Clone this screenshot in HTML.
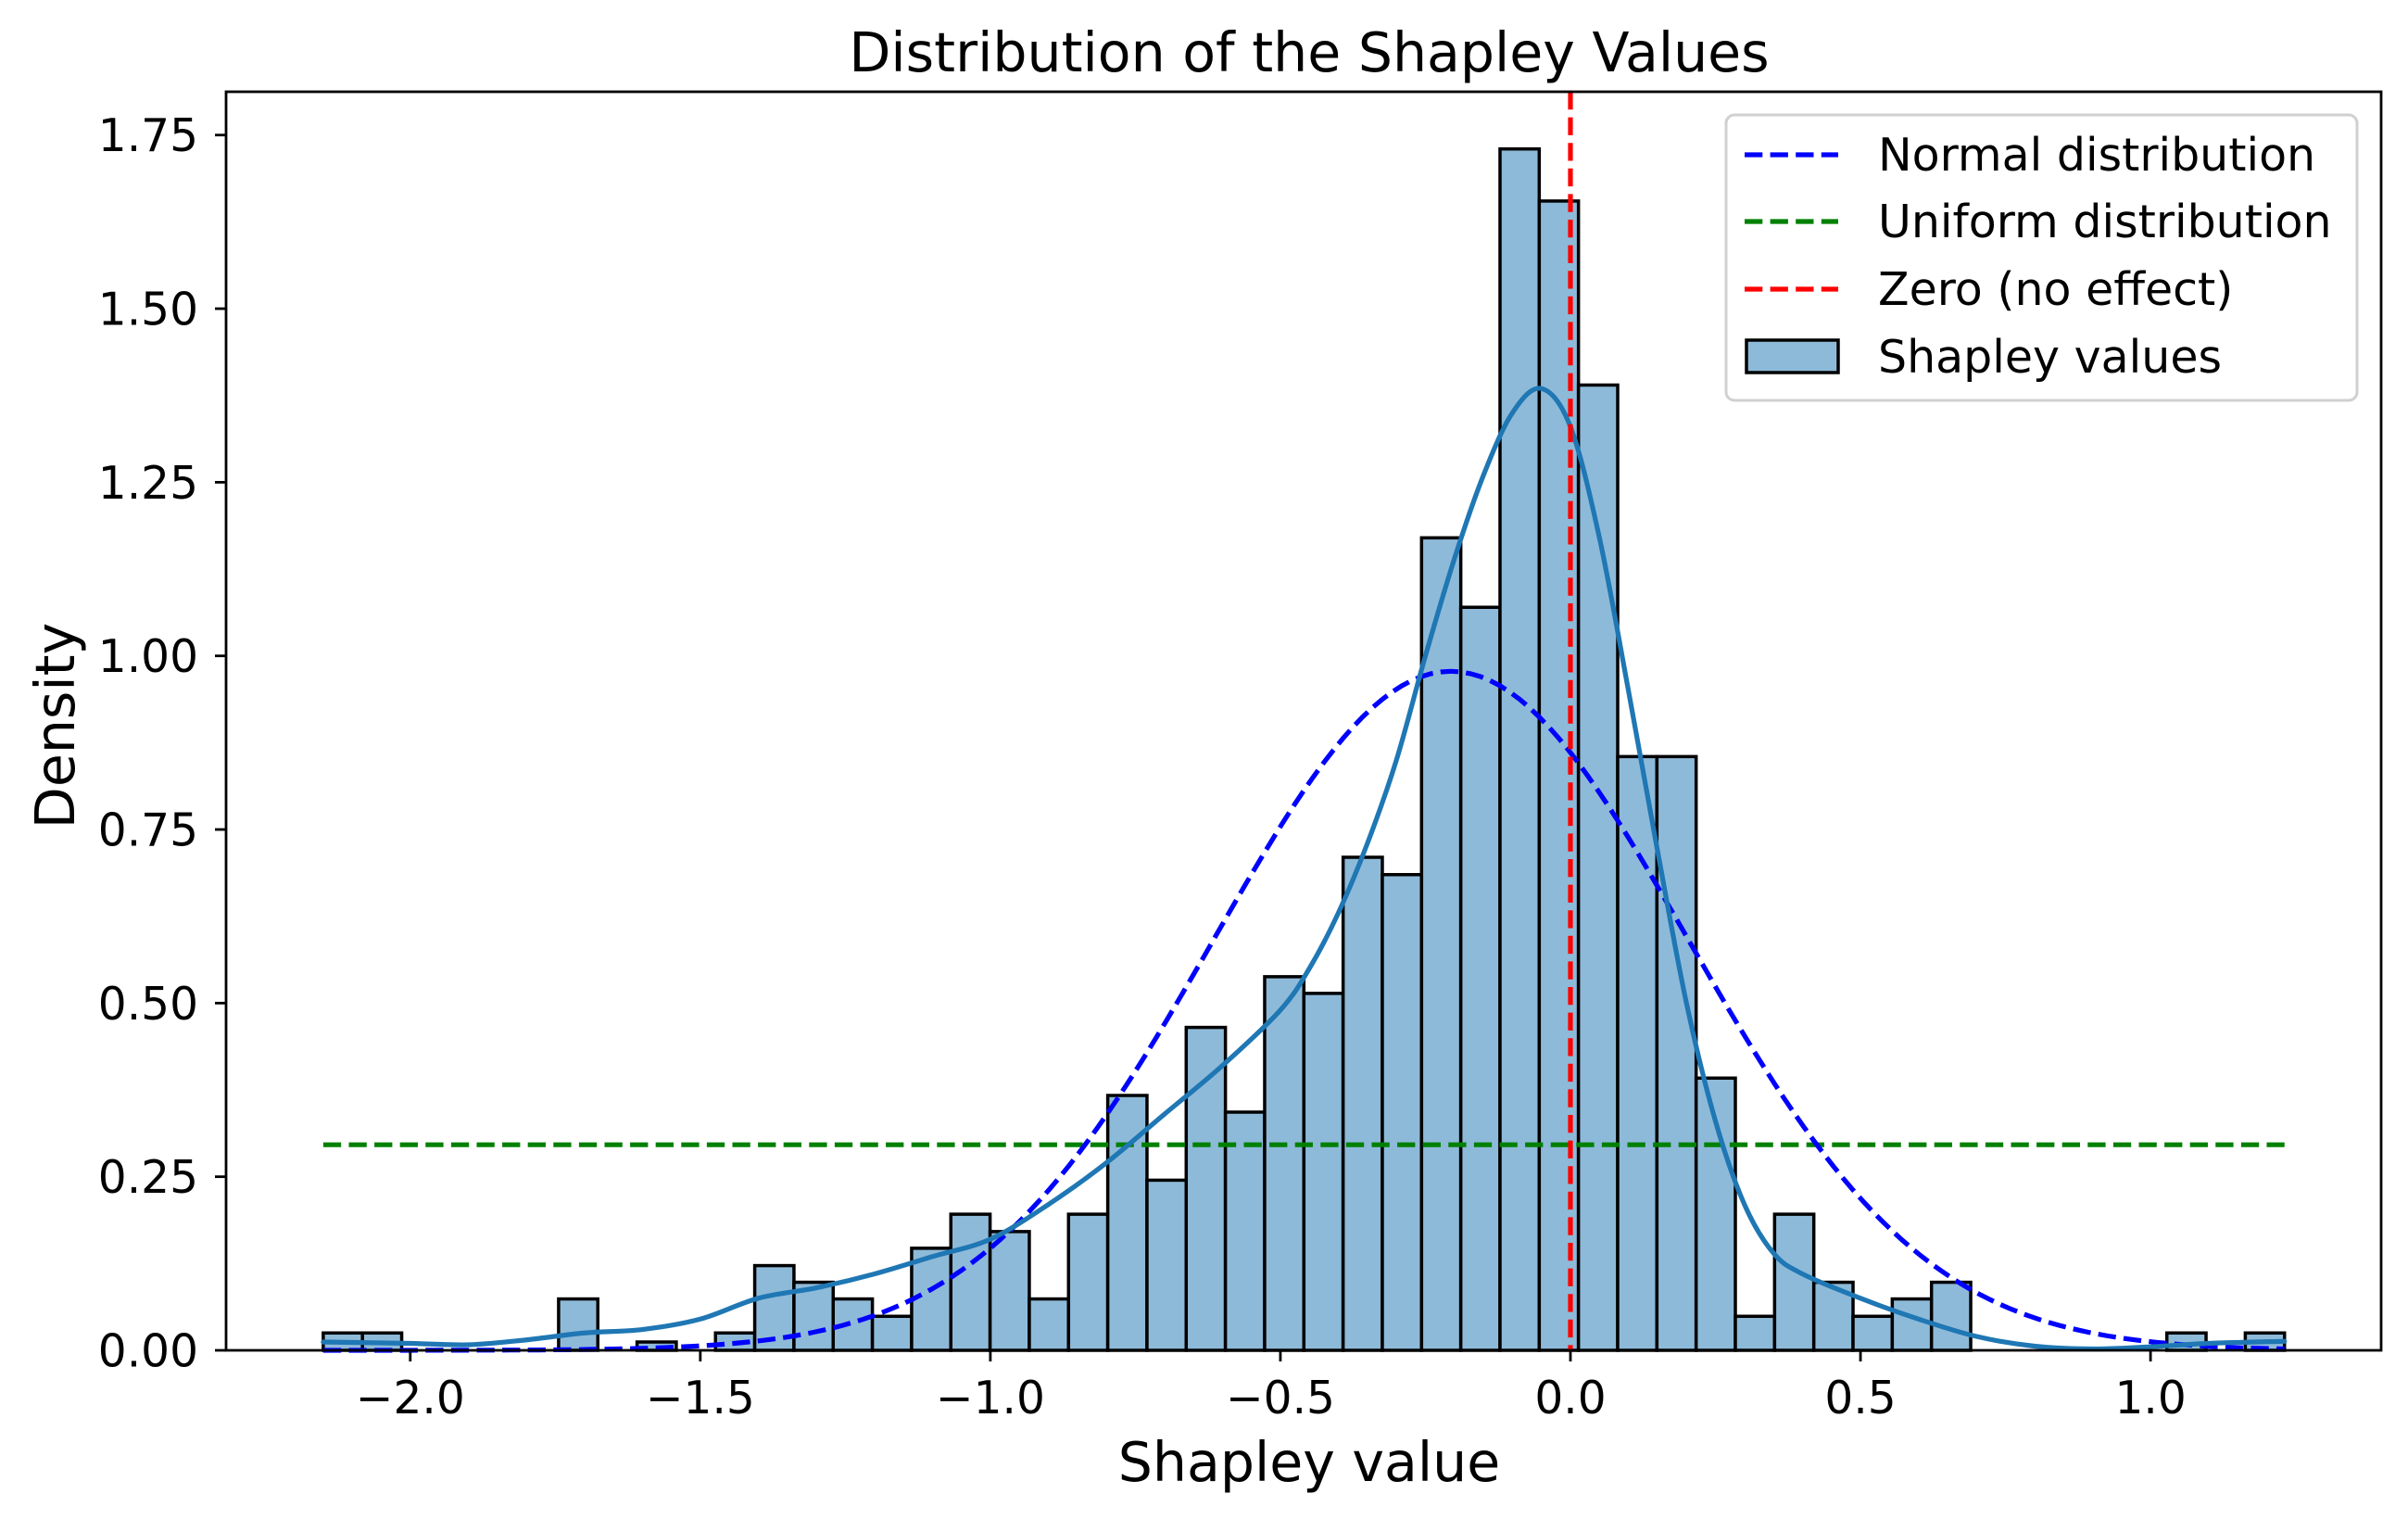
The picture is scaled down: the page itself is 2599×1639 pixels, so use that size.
<!DOCTYPE html>
<html><head><meta charset="utf-8"><style>
html,body{margin:0;padding:0;background:#fff;}
svg{display:block;font-family:"DejaVu Sans","Liberation Sans",sans-serif;}
</style></head><body>
<svg id="chart" width="2599" height="1639" viewBox="0 0 2599 1639" xmlns="http://www.w3.org/2000/svg">
<rect x="0" y="0" width="2599" height="1639" fill="#fff"/>
<g id="plot"></g>
<text x="1413" y="77" font-size="58.5" text-anchor="middle">Distribution of the Shapley Values</text>
<text x="1413" y="1598" font-size="58.5" text-anchor="middle">Shapley value</text>
<text x="0" y="0" font-size="58.5" text-anchor="middle" transform="translate(80,783) rotate(-90)">Density</text>
<g>
<rect x="1863" y="124" width="681" height="308" rx="9" fill="#fff" fill-opacity="0.8" stroke="#d0d0d0" stroke-width="3"/>
<line x1="1883" y1="167" x2="1984" y2="167" stroke="#0000ff" stroke-width="5.2" stroke-dasharray="19.3,8.3"/>
<text x="2027" y="184" font-size="49">Normal distribution</text>
<line x1="1883" y1="239" x2="1984" y2="239" stroke="#008000" stroke-width="5.2" stroke-dasharray="19.3,8.3"/>
<text x="2027" y="256" font-size="49">Uniform distribution</text>
<line x1="1883" y1="312" x2="1984" y2="312" stroke="#ff0000" stroke-width="5.2" stroke-dasharray="19.3,8.3"/>
<text x="2027" y="329" font-size="49">Zero (no effect)</text>
<rect x="1885" y="367" width="99" height="35" fill="#8ebad9" stroke="#000" stroke-width="3.5"/>
<text x="2027" y="402" font-size="49">Shapley values</text>
</g>
</svg>
<script>
const binStart = -2.150;
const binEnd = 1.231;
const binDensities = [0.025,0.025,0,0,0,0,0.074,0,0.012,0,0.025,0.122,0.098,0.074,0.049,0.147,0.196,0.171,0.074,0.196,0.367,0.245,0.465,0.343,0.538,0.514,0.71,0.685,1.17,1.07,1.73,1.655,1.39,0.855,0.855,0.392,0.049,0.196,0.098,0.049,0.074,0.098,0,0,0,0,0,0.025,0,0.025];
const kdeX = [-2.15,-2.0,-1.9,-1.8,-1.7,-1.6,-1.5,-1.4,-1.3,-1.2,-1.1,-1.0,-0.9,-0.8,-0.7,-0.6,-0.5,-0.45,-0.4,-0.35,-0.3,-0.25,-0.2,-0.15,-0.1,-0.05,0.0,0.05,0.1,0.15,0.2,0.25,0.3,0.35,0.4,0.5,0.6,0.7,0.8,0.9,1.0,1.1,1.231];
const kdeY = [0.012,0.01,0.008,0.015,0.025,0.03,0.045,0.075,0.09,0.11,0.135,0.16,0.21,0.27,0.34,0.41,0.49,0.55,0.63,0.73,0.85,1.0,1.14,1.26,1.35,1.385,1.33,1.17,0.95,0.72,0.5,0.33,0.21,0.14,0.11,0.075,0.045,0.02,0.006,0.002,0.005,0.01,0.013];
const normalMean = -0.206;
const normalSd = 0.408;
const uniformDensity = 0.296;
const zeroLine = 0;
const xTicks = [-2.0,-1.5,-1.0,-0.5,0.0,0.5,1.0];
const xTickLabels = ["\u22122.0","\u22121.5","\u22121.0","\u22120.5","0.0","0.5","1.0"];
const yTicks = [0,0.25,0.5,0.75,1.0,1.25,1.5,1.75];
const yTickLabels = ["0.00","0.25","0.50","0.75","1.00","1.25","1.50","1.75"];

const L=244,R=2570,T=99,B=1457;
function xs(v){return 1695+v*626.1;}
function ys(v){return B-v*749.3;}
const NS="http://www.w3.org/2000/svg";
const g=document.getElementById('plot');
function mk(tag,attrs){const e=document.createElementNS(NS,tag);for(const k in attrs)e.setAttribute(k,attrs[k]);g.appendChild(e);return e;}

const bw=(binEnd-binStart)/binDensities.length;
binDensities.forEach((d,i)=>{
  const x0=xs(binStart+i*bw), x1=xs(binStart+(i+1)*bw);
  const r=mk('rect',{x:x0,y:ys(d),width:x1-x0,height:ys(0)-ys(d),fill:'#8ebad9',stroke:'#000','stroke-width':3.5});
  
  
});
let u=mk('line',{x1:xs(binStart),x2:xs(binEnd),y1:ys(uniformDensity),y2:ys(uniformDensity),stroke:'#008000','stroke-width':5.2,'stroke-dasharray':'19.3,8.3'});


let pts=[];
for(let i=0;i<=200;i++){const v=binStart+(binEnd-binStart)*i/200;const p=Math.exp(-0.5*Math.pow((v-normalMean)/normalSd,2))/(normalSd*Math.sqrt(2*Math.PI));pts.push(xs(v).toFixed(1)+','+ys(p).toFixed(1));}
let n=mk('polyline',{points:pts.join(' '),fill:'none',stroke:'#0000ff','stroke-width':5.2,'stroke-dasharray':'19.3,8.3'});


let kp=kdeX.map((v,i)=>[xs(v),ys(kdeY[i])]);
let d='M'+kp[0][0]+','+kp[0][1];
for(let i=0;i<kp.length-1;i++){const p0=kp[Math.max(0,i-1)],p1=kp[i],p2=kp[i+1],p3=kp[Math.min(kp.length-1,i+2)];
d+=' C'+(p1[0]+(p2[0]-p0[0])/6)+','+(p1[1]+(p2[1]-p0[1])/6)+' '+(p2[0]-(p3[0]-p1[0])/6)+','+(p2[1]-(p3[1]-p1[1])/6)+' '+p2[0]+','+p2[1];}
let k=mk('path',{d:d,fill:'none',stroke:'#1f77b4','stroke-width':5.2,'stroke-linecap':'round'});


let z=mk('line',{x1:xs(zeroLine),x2:xs(zeroLine),y1:T,y2:B,stroke:'#ff0000','stroke-width':5.2,'stroke-dasharray':'19.3,8.3'});


let f=mk('rect',{x:L,y:T,width:R-L,height:B-T,fill:'none',stroke:'#000','stroke-width':2.8});


xTicks.forEach((v,i)=>{
  const t=mk('line',{x1:xs(v),x2:xs(v),y1:B,y2:B+12,stroke:'#000','stroke-width':2.8});
  
  
  const l=mk('text',{x:xs(v),y:B+68,'font-size':48.6,'text-anchor':'middle'});
  l.textContent=xTickLabels[i];
  
  
});
yTicks.forEach((v,i)=>{
  const t=mk('line',{x1:L-12,x2:L,y1:ys(v),y2:ys(v),stroke:'#000','stroke-width':2.8});
  
  
  const l=mk('text',{x:L-30,y:ys(v)+17.5,'font-size':48.6,'text-anchor':'end'});
  l.textContent=yTickLabels[i];
  
  
});
</script>
</body></html>
